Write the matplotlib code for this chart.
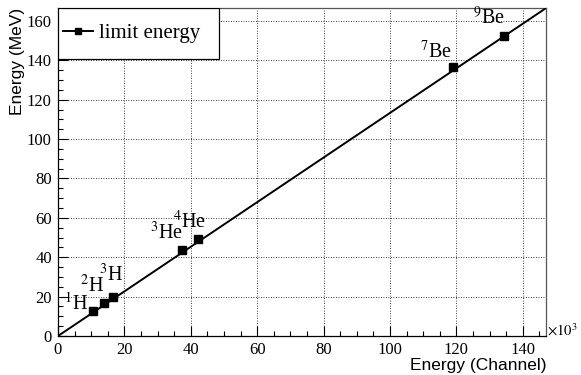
import matplotlib
matplotlib.use("Agg")
import matplotlib.pyplot as plt
from matplotlib.patches import Rectangle
from matplotlib.ticker import MultipleLocator

# calibration points (x in units of 10^3 channels, y in MeV)
isotopes = ["1H", "2H", "3H", "3He", "4He", "7Be", "9Be"]
channel_k = [10.45, 13.95, 16.47, 37.36, 42.09, 119.1, 134.2]
energy_mev = [12.5, 16.9, 20.0, 43.7, 49.1, 136.6, 152.4]
labels = [r"$^{1}$H", r"$^{2}$H", r"$^{3}$H", r"$^{3}$He", r"$^{4}$He", r"$^{7}$Be", r"$^{9}$Be"]
label_x = [5.4, 10.2, 16.0, 32.8, 39.6, 113.9, 129.9]
label_y = [16.3, 25.4, 31.0, 52.3, 57.9, 144.2, 161.5]

# linear fit
fit_slope = 1.133
fit_intercept = 0.0
x_range = [0, 147]

plt.rcParams["mathtext.fontset"] = "stix"
serif = "Liberation Serif"
sans = "Liberation Sans"

fig = plt.figure(figsize=(5.81, 3.75), dpi=100)
ax = fig.add_axes([58 / 581, 39 / 375, 488 / 581, 328 / 375])

fit_y = [fit_slope * x + fit_intercept for x in x_range]
ax.plot(x_range, fit_y, color="black", lw=1.4, zorder=3)
ax.plot(channel_k, energy_mev, ls="none", marker="s", ms=6, color="black", zorder=4)

for lab, lx, ly in zip(labels, label_x, label_y):
    ax.text(lx, ly, lab, ha="center", va="center", fontsize=14.5, family=serif)

ax.set_xlim(0, 147)
ax.set_ylim(0, 166.6)
ax.xaxis.set_major_locator(MultipleLocator(20))
ax.xaxis.set_minor_locator(MultipleLocator(5))
ax.yaxis.set_major_locator(MultipleLocator(20))
ax.yaxis.set_minor_locator(MultipleLocator(5))
ax.tick_params(which="both", direction="in", top=False, right=False)
ax.tick_params(which="major", length=7, width=0.8, labelsize=12, pad=4.5)
ax.tick_params(which="minor", length=3.5, width=0.8)
for t in ax.get_xticklabels() + ax.get_yticklabels():
    t.set_family(serif)

ax.grid(True, which="major", ls=(0, (1, 2)), color="black", lw=0.6)
for s in ["top", "right"]:
    ax.spines[s].set_color("#555555")
for s in ax.spines.values():
    s.set_linewidth(0.9)

ax.set_xlabel("Energy (Channel)", loc="right", fontsize=12.5, family=sans, labelpad=0)
ax.set_ylabel("Energy (MeV)", loc="top", fontsize=12.5, family=sans, labelpad=1)
fig.text(547 / 581, 45 / 375, r"$\times10^{3}$", fontsize=10.5, ha="left", va="center")

# legend box, ROOT style
ax.add_patch(Rectangle((0, 0.8445), 0.33, 0.1555, transform=ax.transAxes,
                       facecolor="white", edgecolor="black", lw=0.9, zorder=5))
h, = ax.plot([], [], color="black", lw=1.4, marker="s", ms=5)
leg = ax.legend([h], ["limit energy"], loc="center left", bbox_to_anchor=(0, 0.922),
                borderaxespad=0, prop={"family": serif, "size": 15}, frameon=False,
                borderpad=0.25, handlelength=1.45, handletextpad=0.25)
leg.set_zorder(6)

fig.savefig("out.png", dpi=100)
